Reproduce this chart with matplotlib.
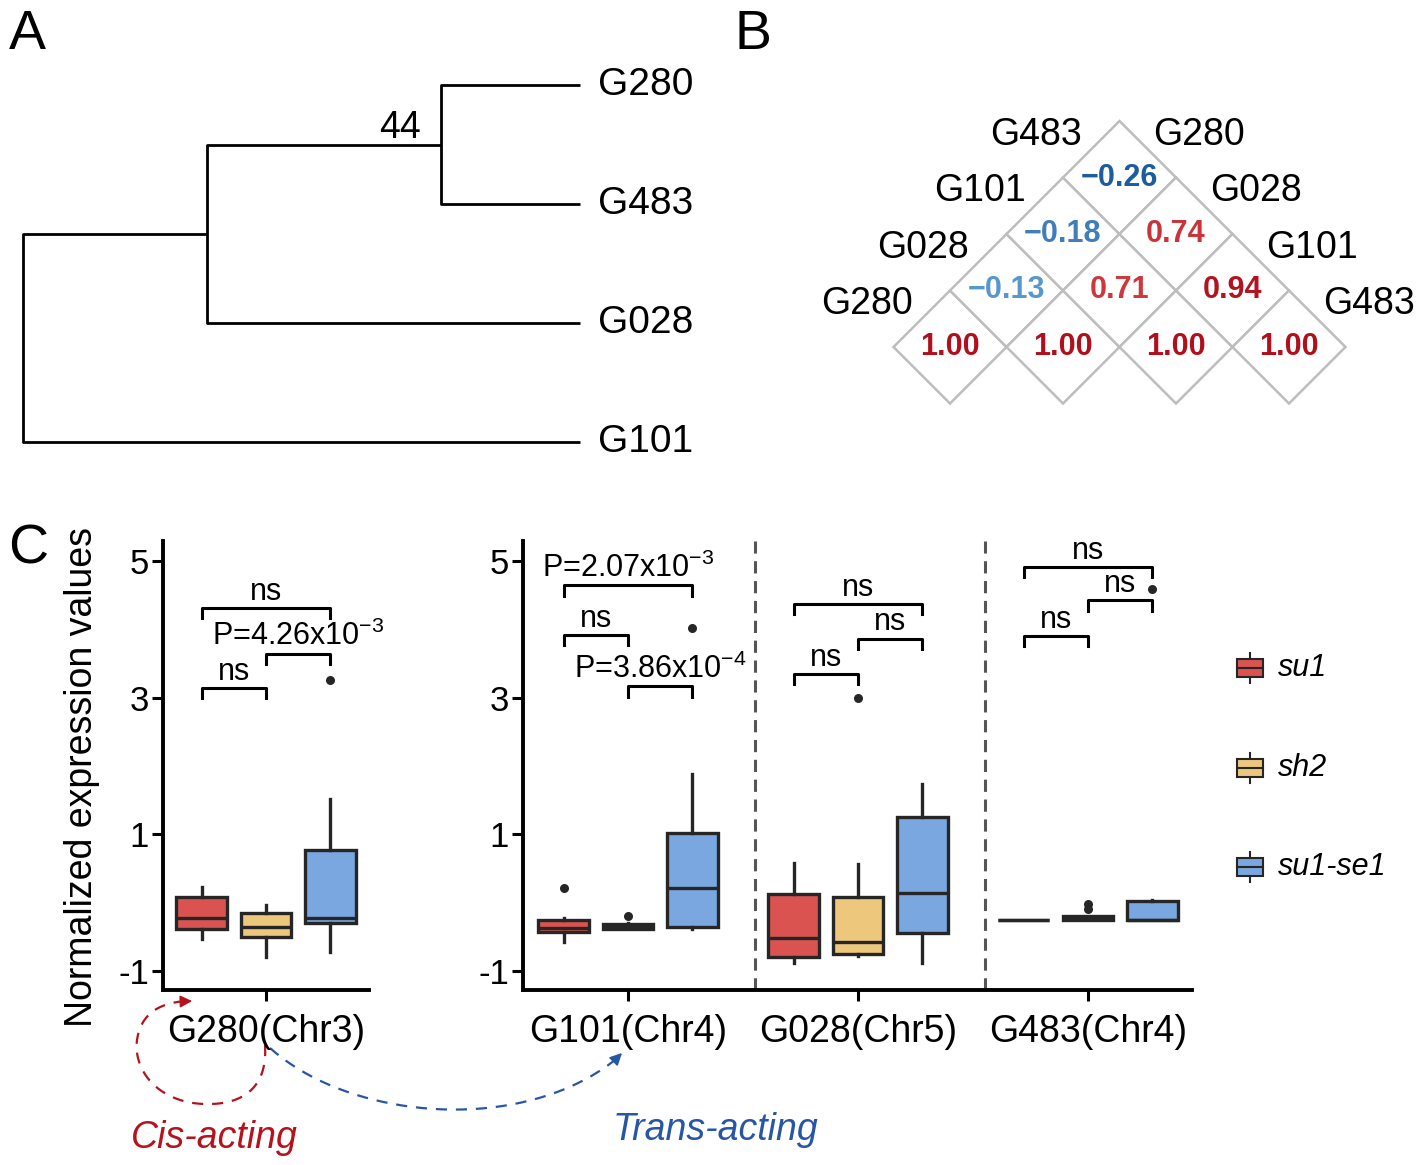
import numpy as np
import matplotlib
matplotlib.use('Agg')
import matplotlib.pyplot as plt
from matplotlib.patches import Polygon, Rectangle
from matplotlib.colors import LinearSegmentedColormap, Normalize

plt.rcParams['font.family'] = ['Liberation Sans', 'DejaVu Sans']
plt.rcParams['mathtext.default'] = 'regular'
plt.rcParams['axes.unicode_minus'] = False

W, H = 1417, 1165

# ---------------- data ----------------
# A: tree (leaf order top->bottom), merges refer to leaf ids 0..3 and new nodes 4..
tree_leaves = ['G280', 'G483', 'G028', 'G101']
tree_merges = [(0, 1), (4, 2), (5, 3)]
tree_heights = [0.75, 0.33, 0.0]
tree_support = ['44', '', '']

# B: correlation matrix
corr_genes = ['G280', 'G028', 'G101', 'G483']
corr_vals = [[1.00, -0.13, -0.18, -0.26],
             [-0.13, 1.00, 0.71, 0.74],
             [-0.18, 0.71, 1.00, 0.94],
             [-0.26, 0.74, 0.94, 1.00]]

# C: boxplots, one row per gene, one entry per genotype
gene_labels = ['G280(Chr3)', 'G101(Chr4)', 'G028(Chr5)', 'G483(Chr4)']
genotypes = ['su1', 'sh2', 'su1-se1']
geno_colors = ['#DA5350', '#EDC77C', '#7AA7E0']
box_whislo = [[-0.53, -0.80, -0.73], [-0.58, -0.38, -0.38], [-0.88, -0.78, -0.88], [-0.25, -0.26, -0.26]]
box_q1 = [[-0.38, -0.50, -0.30], [-0.43, -0.38, -0.35], [-0.80, -0.75, -0.44], [-0.25, -0.26, -0.26]]
box_med = [[-0.23, -0.35, -0.22], [-0.37, -0.35, 0.21], [-0.52, -0.57, 0.14], [-0.25, -0.23, -0.25]]
box_q3 = [[0.08, -0.15, 0.77], [-0.26, -0.32, 1.02], [0.13, 0.09, 1.26], [-0.25, -0.20, 0.02]]
box_whishi = [[0.23, -0.04, 1.52], [-0.22, -0.30, 1.89], [0.58, 0.57, 1.74], [-0.25, -0.20, 0.04]]
box_fliers = [[[], [], [3.26]], [[0.22], [-0.20], [4.03]], [[], [3.00], []], [[], [-0.02, -0.10], [4.60]]]

# significance brackets: gene, genotype a, genotype b, height, label
sig_gene = [0, 0, 0, 1, 1, 1, 2, 2, 2, 3, 3, 3]
sig_a = [0, 1, 0, 0, 0, 1, 0, 1, 0, 0, 1, 0]
sig_b = [1, 2, 2, 2, 1, 2, 2, 2, 1, 2, 2, 1]
sig_y = [3.15, 3.65, 4.32, 4.65, 3.92, 3.17, 4.38, 3.87, 3.35, 4.92, 4.43, 3.91]
sig_text = ['ns', 'P=4.26x$10^{-3}$', 'ns',
            'P=2.07x$10^{-3}$', 'ns', 'P=3.86x$10^{-4}$',
            'ns', 'ns', 'ns',
            'ns', 'ns', 'ns']


def px_rect(l, t, r, b):
    return [l / W, 1 - b / H, (r - l) / W, (b - t) / H]


fig = plt.figure(figsize=(W / 100, H / 100), dpi=100)

# overlay for decorations
ov = fig.add_axes([0, 0, 1, 1])
ov.set_xlim(0, W)
ov.set_ylim(H, 0)
ov.axis('off')

# ---------------- A ----------------
axA = fig.add_axes(px_rect(23, 85, 580, 442))
axA.set_xlim(0, 1)
axA.set_ylim(3, 0)
axA.axis('off')
pos = {i: (1.0, float(i)) for i in range(len(tree_leaves))}
for k, (a, b) in enumerate(tree_merges):
    xa, ya = pos[a]
    xb, yb = pos[b]
    x = tree_heights[k]
    axA.plot([xa, x, x, xb], [ya, ya, yb, yb], color='black', lw=2.0,
             clip_on=False, solid_capstyle='butt')
    pos[len(tree_leaves) + k] = (x, (ya + yb) / 2)
    if tree_support[k]:
        axA.annotate(tree_support[k], (x, (ya + yb) / 2), xytext=(-14, 5),
                     textcoords='offset points', ha='right', va='baseline',
                     fontsize=27)
for i, name in enumerate(tree_leaves):
    axA.annotate(name, (1.0, i), xytext=(13, 0), textcoords='offset points',
                 ha='left', va='center', fontsize=28)

# ---------------- B ----------------
axB = fig.add_axes(px_rect(950 - 0.6 * 113, 347 - 2.1 * 113, 950 + 3.6 * 113, 347 + 0.6 * 113))
axB.set_xlim(-0.6, 3.6)
axB.set_ylim(-0.6, 2.1)
axB.axis('off')
cmap = LinearSegmentedColormap.from_list(
    'cr', [(0, '#0b3f80'), (0.37, '#1d5c9e'), (0.44, '#5c9bd1'), (0.5, '#bbbbbb'),
           (0.85, '#cf3a3d'), (0.97, '#b3121f'), (1, '#b0101c')])
norm = Normalize(-1, 1)
n = len(corr_genes)
for i in range(n):
    for j in range(i, n):
        cx, cy = (i + j) / 2, (j - i) / 2
        axB.add_patch(Polygon([(cx - 0.5, cy), (cx, cy + 0.5), (cx + 0.5, cy), (cx, cy - 0.5)],
                              closed=True, fc='white', ec='#bdbdbd', lw=1.8))
        v = corr_vals[i][j]
        axB.text(cx, cy, f'{v:.2f}'.replace('-', '\u2212'), ha='center', va='center',
                 fontsize=22, fontweight='bold', color=cmap(norm(v)))
for k, g in enumerate(corr_genes):
    axB.text(k / 2 - 0.33, k / 2 + 0.38, g, ha='right', va='center', fontsize=27, clip_on=False)
    cx, cy = (k + 3) / 2, (3 - k) / 2
    axB.text(cx + 0.30, cy + 0.38, g, ha='left', va='center', fontsize=27, clip_on=False)

# ---------------- C ----------------
axC1 = fig.add_axes(px_rect(163, 541, 369, 990))
axC2 = fig.add_axes(px_rect(523, 541, 1192, 990))
offs = [-0.28, 0.0, 0.28]
dark = '#262626'
for g in range(len(gene_labels)):
    ax = axC1 if g == 0 else axC2
    xg = 1 if g == 0 else g
    stats = []
    for k in range(3):
        stats.append(dict(med=box_med[g][k], q1=box_q1[g][k], q3=box_q3[g][k],
                          whislo=box_whislo[g][k], whishi=box_whishi[g][k],
                          fliers=box_fliers[g][k]))
    bp = ax.bxp(stats, positions=[xg + o for o in offs], widths=0.22,
                patch_artist=True, showcaps=False, manage_ticks=False,
                boxprops=dict(linewidth=2.4, edgecolor=dark),
                medianprops=dict(color=dark, linewidth=2.4),
                whiskerprops=dict(color=dark, linewidth=2.4),
                flierprops=dict(marker='o', markersize=6.5, markerfacecolor=dark,
                                markeredgecolor='none'))
    for patch, col in zip(bp['boxes'], geno_colors):
        patch.set_facecolor(col)

for s in range(len(sig_gene)):
    g = sig_gene[s]
    ax = axC1 if g == 0 else axC2
    xg = 1 if g == 0 else g
    x1, x2 = xg + offs[sig_a[s]], xg + offs[sig_b[s]]
    y = sig_y[s]
    ax.plot([x1, x1, x2, x2], [y - 0.15, y, y, y - 0.15], color='black', lw=2.2)
    ax.text((x1 + x2) / 2, y + 0.12, sig_text[s], ha='center', va='baseline', fontsize=22)

for ax in (axC1, axC2):
    ax.set_ylim(-1.28, 5.3)
    ax.set_yticks([-1, 1, 3, 5])
    ax.set_yticklabels(['-1', '1', '3', '5'])
    for sp in ('top', 'right'):
        ax.spines[sp].set_visible(False)
    for sp in ('left', 'bottom'):
        ax.spines[sp].set_linewidth(2.8)
    ax.tick_params(axis='y', length=8, width=2.2, labelsize=25, pad=2)
    ax.tick_params(axis='x', length=8, width=2.2, labelsize=27, pad=9)

axC1.set_xlim(1 - 103 / 230, 1 + 103 / 230)
axC1.set_xticks([1])
axC1.set_xticklabels(gene_labels[:1])
axC2.set_xlim(1 - 105 / 230, 3 + 104 / 230)
axC2.set_xticks([1, 2, 3])
axC2.set_xticklabels(gene_labels[1:])
for xv in (1.552, 2.552):
    axC2.axvline(xv, color='#555555', lw=2.2, ls=(0, (4, 2.5)))

fig.text(82 / W, 1 - 777 / H, 'Normalized expression values', rotation=90,
         ha='center', va='center', fontsize=27)

# legend
for i, (name, col) in enumerate(zip(genotypes, geno_colors)):
    yc = 668 + i * 99.5
    ov.plot([1250, 1250], [yc - 15, yc + 15], color=dark, lw=1.5)
    ov.add_patch(Rectangle((1237, yc - 9), 26, 18, fc=col, ec=dark, lw=1.5, zorder=3))
    ov.plot([1237, 1263], [yc, yc], color=dark, lw=1.5, zorder=4)
    ov.text(1278, yc, name, fontsize=22, style='italic', ha='left', va='center')

# panel letters
for lab, x, y in (('A', 27, 35), ('B', 753, 35), ('C', 28, 550)):
    fig.text(x / W, 1 - y / H, lab, fontsize=40, ha='center', va='center')


# cis / trans arrows
def bez(p0, p1, p2, p3, n=40):
    t = np.linspace(0, 1, n)[:, None]
    p0, p1, p2, p3 = map(np.array, (p0, p1, p2, p3))
    return (1 - t) ** 3 * p0 + 3 * (1 - t) ** 2 * t * p1 + 3 * (1 - t) * t ** 2 * p2 + t ** 3 * p3


red, blue = '#b5121b', '#2856a6'
cis = np.vstack([bez((265, 1045), (268, 1090), (240, 1105), (205, 1104)),
                 bez((205, 1104), (160, 1103), (133, 1072), (137, 1040)),
                 bez((137, 1040), (141, 1013), (160, 1003), (186, 1001))])
ov.plot(cis[:, 0], cis[:, 1], color=red, lw=1.6, ls=(0, (5, 4)))
ov.annotate('', xy=(195, 1001), xytext=(180, 1001.5),
            arrowprops=dict(arrowstyle='-|>', color=red, lw=1.2, mutation_scale=18))
trans = bez((270, 1048), (350, 1120), (520, 1135), (615, 1060))
ov.plot(trans[:, 0], trans[:, 1], color=blue, lw=1.6, ls=(0, (5, 4)))
ov.annotate('', xy=(624, 1051), xytext=(612, 1063),
            arrowprops=dict(arrowstyle='-|>', color=blue, lw=1.2, mutation_scale=18))
ov.text(214, 1138, 'Cis-acting', color=red, style='italic', fontsize=27, ha='center', va='center')
ov.text(716, 1130, 'Trans-acting', color=blue, style='italic', fontsize=27, ha='center', va='center')

fig.savefig('out.png', dpi=100)
